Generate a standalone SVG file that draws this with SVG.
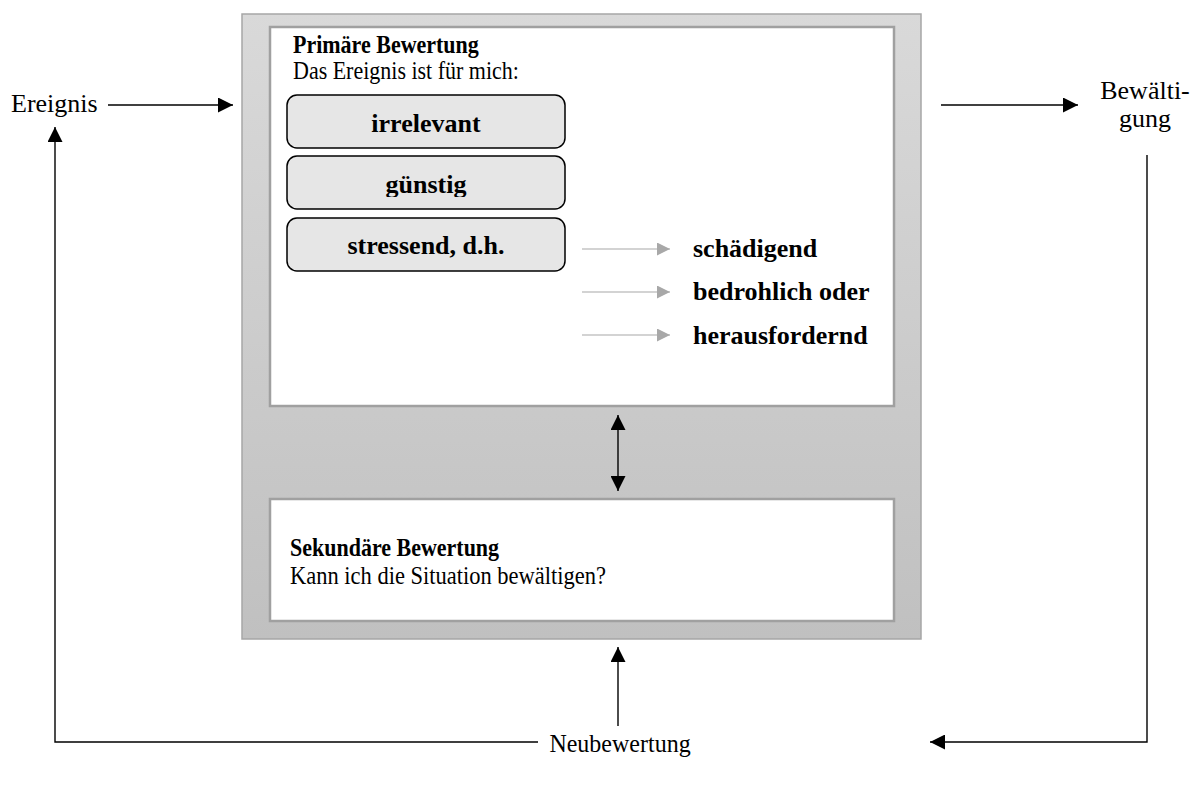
<svg xmlns="http://www.w3.org/2000/svg" width="1200" height="809" viewBox="0 0 1200 809">
  <style>
    .t { font-family: "Liberation Serif", "Times New Roman", serif; font-size: 26px; fill: #000; }
    .s { font-size: 22px; }
    .m { font-size: 22.5px; }
    .n { font-size: 24px; }
    .b { font-weight: bold; }
    .conn { fill: none; stroke: #000; stroke-width: 1.4; }
    .gconn { fill: none; stroke: #a8a8a8; stroke-width: 1.2; }
    .pill { fill: #e6e6e6; stroke: #000; stroke-width: 1.5; }
    .panel { fill: #fff; stroke: #a0a0a0; stroke-width: 2.5; }
  </style>
  <defs>
    <linearGradient id="frameFill" x1="0" y1="0" x2="0" y2="1">
      <stop offset="0" stop-color="#d9d9d9"/>
      <stop offset="1" stop-color="#c0c0c0"/>
    </linearGradient>
    <marker id="ah" viewBox="0 0 10 10" refX="10" refY="5" markerWidth="16" markerHeight="15" markerUnits="userSpaceOnUse" orient="auto-start-reverse">
      <path d="M0,0 L10,5 L0,10 Z" fill="#000"/>
    </marker>
    <marker id="gh" viewBox="0 0 10 10" refX="10" refY="5" markerWidth="16" markerHeight="13" markerUnits="userSpaceOnUse" orient="auto">
      <path d="M0,0 L10,5 L0,10 Z" fill="#a8a8a8"/>
    </marker>
    <!-- the middle option's label is cut off just below its baseline -->
    <clipPath id="pillClip2">
      <rect x="287" y="156" width="278" height="41"/>
    </clipPath>
  </defs>

  <!-- appraisal frame -->
  <g id="frame">
    <rect x="242" y="14" width="679" height="625" fill="url(#frameFill)" stroke="#a6a6a6" stroke-width="1.5"/>
  </g>

  <!-- primary appraisal panel; its heading lines are set narrow and tall -->
  <g id="primary">
    <rect class="panel" x="270" y="27" width="624" height="379"/>
    <text class="t s b" transform="translate(293,53) scale(1,1.1)">Primäre Bewertung</text>
    <text class="t s" transform="translate(293,79) scale(1,1.1)">Das Ereignis ist für mich:</text>
  </g>

  <g id="irrelevant">
    <rect class="pill" x="287" y="95" width="278" height="53" rx="10"/>
    <text class="t b" x="426" y="132" text-anchor="middle">irrelevant</text>
  </g>
  <g id="guenstig">
    <rect class="pill" x="287" y="156" width="278" height="53" rx="10"/>
    <text class="t b" x="426" y="193" text-anchor="middle" clip-path="url(#pillClip2)">günstig</text>
  </g>
  <g id="stressend">
    <rect class="pill" x="287" y="218" width="278" height="53" rx="10"/>
    <text class="t b" x="426" y="254" text-anchor="middle">stressend, d.h.</text>
  </g>

  <g id="schaedigend">
    <text class="t b" x="693" y="257">schädigend</text>
  </g>
  <g id="bedrohlich">
    <text class="t b" x="693" y="300">bedrohlich oder</text>
  </g>
  <g id="herausfordernd">
    <text class="t b" x="693" y="344">herausfordernd</text>
  </g>

  <!-- secondary appraisal panel -->
  <g id="secondary">
    <rect class="panel" x="270" y="499" width="624" height="122"/>
    <text class="t s b" transform="translate(290,556) scale(1,1.1)">Sekundäre Bewertung</text>
    <text class="t m" transform="translate(290,584) scale(1,1.1)">Kann ich die Situation bewältigen?</text>
  </g>

  <!-- outer labels -->
  <g id="ereignis">
    <text class="t" x="11" y="112">Ereignis</text>
  </g>
  <g id="bewaeltigung">
    <text class="t" x="1145" y="99" text-anchor="middle">Bewälti-</text>
    <text class="t" x="1145" y="127" text-anchor="middle">gung</text>
  </g>
  <g id="neubewertung">
    <text class="t n" text-anchor="middle" transform="translate(620,752) scale(1,1.08)">Neubewertung</text>
  </g>

  <!-- connectors -->
  <g id="connectors">
    <line class="conn" x1="108" y1="105" x2="233" y2="105" marker-end="url(#ah)"/>
    <line class="conn" x1="941" y1="105" x2="1078" y2="105" marker-end="url(#ah)"/>
    <line class="conn" x1="618" y1="415" x2="618" y2="491" marker-start="url(#ah)" marker-end="url(#ah)"/>
    <line class="conn" x1="618" y1="726" x2="618" y2="647" marker-end="url(#ah)"/>
    <polyline class="conn" points="538,742 55,742 55,127" marker-end="url(#ah)"/>
    <polyline class="conn" points="1147,155 1147,742 930,742" marker-end="url(#ah)"/>
    <line class="gconn" x1="582" y1="249" x2="670" y2="249" marker-end="url(#gh)"/>
    <line class="gconn" x1="582" y1="292" x2="670" y2="292" marker-end="url(#gh)"/>
    <line class="gconn" x1="582" y1="335" x2="670" y2="335" marker-end="url(#gh)"/>
  </g>
</svg>
